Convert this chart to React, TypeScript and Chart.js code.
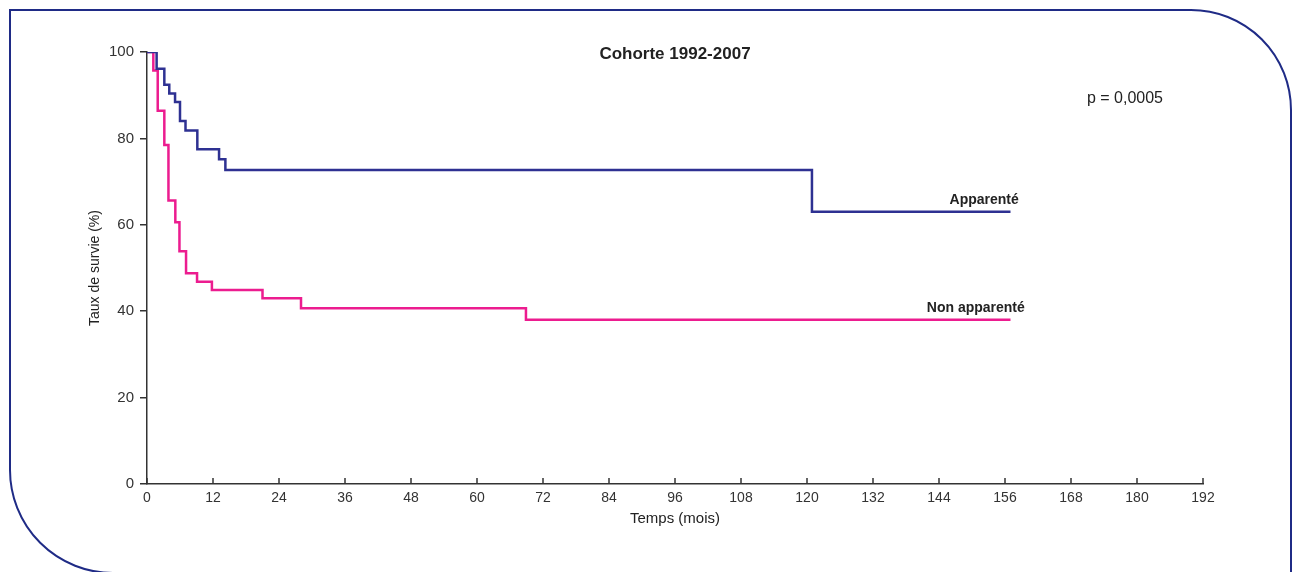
import React, { useEffect, useRef } from "react";
import { Chart, registerables } from "chart.js";

Chart.register(...registerables);

// Kaplan-Meier steps (months, survival %)
const apparenteMonths = [0, 1.75, 3.15, 4.05, 5.1, 6.0, 7.0, 9.15, 13.1, 14.25, 120.9, 157];
const apparenteSurvival = [100, 96.1, 92.4, 90.4, 88.4, 84.0, 81.8, 77.5, 75.2, 72.7, 63.0, 63.0];

const nonApparenteMonths = [0, 1.15, 1.95, 3.15, 3.9, 5.15, 5.9, 7.1, 9.1, 11.8, 21.0, 28.0, 68.9, 157];
const nonApparenteSurvival = [100, 95.7, 86.4, 78.5, 65.6, 60.6, 53.9, 48.8, 46.8, 44.9, 43.0, 40.7, 38.0, 38.0];

const xTickStep = 12;
const xMax = 192;
const yTickStep = 20;
const yMax = 100;

const chartTitle = "Cohorte 1992-2007";
const pValueText = "p = 0,0005";
const seriesLabels = ["Apparenté", "Non apparenté"];
// anchors (in data units) for the in-plot labels
const labelAnchorsX = [158.5, 159.6];
const labelAnchorsY = [65.7, 40.6];
const pValueAnchor = [170.9, 89.1];
const xAxisTitle = "Temps (mois)";
const yAxisTitle = "Taux de survie (%)";

const FONT = "'Liberation Sans', Arial, sans-serif";
const BLUE = "#2e3192";
const PINK = "#ec1c8f";
const FRAME = "#1f2b86";
const AXIS = "#333333";

const decorPlugin = {
  id: "decor",
  beforeDraw(chart: any) {
    const ctx = chart.ctx;
    ctx.save();
    ctx.fillStyle = "#ffffff";
    ctx.fillRect(0, 0, chart.width, chart.height);
    // frame: square top-left, rounded top-right and bottom-left
    ctx.strokeStyle = FRAME;
    ctx.lineWidth = 2;
    ctx.beginPath();
    ctx.moveTo(1291, 620);
    ctx.lineTo(1291, 110);
    ctx.arc(1191, 110, 100, 0, -Math.PI / 2, true);
    ctx.lineTo(10, 10);
    ctx.lineTo(10, 470);
    ctx.arc(113, 470, 103, Math.PI, Math.PI / 2, true);
    ctx.lineTo(600, 573);
    ctx.stroke();
    ctx.restore();
  },
  afterDraw(chart: any) {
    const ctx = chart.ctx;
    const xs = chart.scales.x;
    const ys = chart.scales.y;
    const area = chart.chartArea;
    ctx.save();
    // inward x ticks
    ctx.strokeStyle = AXIS;
    ctx.lineWidth = 1.5;
    xs.ticks.forEach((t: any) => {
      const px = xs.getPixelForValue(t.value);
      ctx.beginPath();
      ctx.moveTo(px, area.bottom);
      ctx.lineTo(px, area.bottom - 6);
      ctx.stroke();
    });
    ctx.fillStyle = "#222";
    ctx.textBaseline = "middle";
    // title
    ctx.font = `bold 17px ${FONT}`;
    ctx.textAlign = "center";
    ctx.fillText(chartTitle, (area.left + area.right) / 2, area.top + 2);
    // p-value
    ctx.font = `16px ${FONT}`;
    ctx.textAlign = "left";
    ctx.fillText(pValueText, xs.getPixelForValue(pValueAnchor[0]), ys.getPixelForValue(pValueAnchor[1]));
    // series labels
    ctx.font = `bold 14px ${FONT}`;
    ctx.textAlign = "right";
    seriesLabels.forEach((s, i) => {
      ctx.fillText(s, xs.getPixelForValue(labelAnchorsX[i]), ys.getPixelForValue(labelAnchorsY[i]));
    });
    // axis titles
    ctx.font = `15px ${FONT}`;
    ctx.textAlign = "center";
    ctx.fillText(xAxisTitle, (area.left + area.right) / 2, area.bottom + 35);
    ctx.translate(95, (area.top + area.bottom) / 2);
    ctx.rotate(-Math.PI / 2);
    ctx.font = `14px ${FONT}`;
    ctx.fillText(yAxisTitle, 0, 0);
    ctx.restore();
  },
};

export default function App() {
  const ref = useRef<HTMLCanvasElement>(null);
  useEffect(() => {
    if (!ref.current) return;
    const chart = new Chart(ref.current, {
      type: "line",
      data: {
        datasets: [
          {
            label: seriesLabels[0],
            data: apparenteMonths.map((m, i) => ({ x: m, y: apparenteSurvival[i] })),
            borderColor: BLUE,
            borderWidth: 2.5,
            pointRadius: 0,
            stepped: "before",
            fill: false,
          },
          {
            label: seriesLabels[1],
            data: nonApparenteMonths.map((m, i) => ({ x: m, y: nonApparenteSurvival[i] })),
            borderColor: PINK,
            borderWidth: 2.5,
            pointRadius: 0,
            stepped: "before",
            fill: false,
          },
        ],
      },
      options: {
        responsive: false,
        animation: false,
        layout: { padding: { left: 0, right: 91, top: 52, bottom: 0 } },
        plugins: { legend: { display: false }, tooltip: { enabled: false }, title: { display: false } },
        scales: {
          x: {
            type: "linear",
            min: 0,
            max: xMax,
            afterFit: (s: any) => {
              s.height = 88;
            },
            ticks: {
              stepSize: xTickStep,
              color: AXIS,
              font: { family: FONT, size: 14 },
              padding: 6,
              maxRotation: 0,
            },
            grid: { display: true, drawOnChartArea: false, drawTicks: false, color: AXIS },
            border: { display: true, color: AXIS, width: 1.5 },
          },
          y: {
            min: 0,
            max: yMax,
            afterFit: (s: any) => {
              s.width = 147;
            },
            ticks: {
              stepSize: yTickStep,
              color: AXIS,
              font: { family: FONT, size: 15 },
              padding: 6,
            },
            grid: { display: true, drawOnChartArea: false, drawTicks: true, tickLength: 7, color: AXIS, lineWidth: 1.5 },
            border: { display: true, color: AXIS, width: 1.5 },
          },
        },
      },
      plugins: [decorPlugin],
    });
    return () => chart.destroy();
  }, []);
  return (
    <canvas
      ref={ref}
      width={1294}
      height={572}
      style={{ position: "fixed", left: 0, top: 0, display: "block" }}
    />
  );
}
